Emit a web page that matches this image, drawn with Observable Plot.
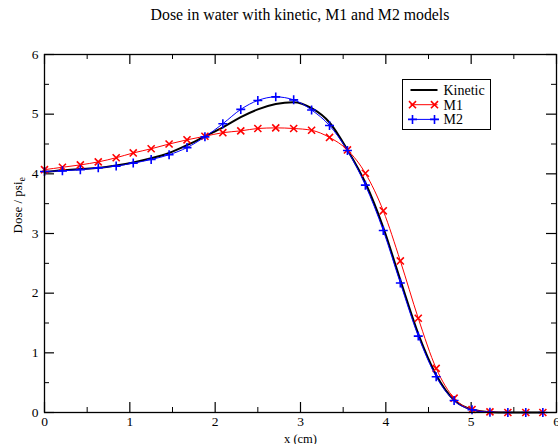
<!DOCTYPE html>
<html><head><meta charset="utf-8">
<script src="https://cdn.jsdelivr.net/npm/d3@7"></script>
<script src="https://cdn.jsdelivr.net/npm/@observablehq/plot@0.6"></script>
<style>
body{margin:0;background:#fff;font-family:"Liberation Serif","Times New Roman",Times,serif;}
#title{position:absolute;left:44px;width:512px;top:0;height:44px;text-align:center;font-size:15.8px;line-height:30px;color:#000;}
#chart{position:absolute;left:0;top:44px;}
</style></head>
<body>
<div id="title">Dose in water with kinetic, M1 and M2 models</div>
<div id="chart"></div>
<script>
// Data
const xPositions = [0, 0.21, 0.42, 0.63, 0.84, 1.04, 1.25, 1.46, 1.67, 1.88, 2.09, 2.30, 2.50, 2.71, 2.92, 3.13, 3.34, 3.55, 3.76, 3.97, 4.17, 4.38, 4.59, 4.80, 5.01, 5.22, 5.43, 5.64, 5.84];
const kinetic = [4.03, 4.06, 4.08, 4.10, 4.14, 4.19, 4.26, 4.35, 4.48, 4.63, 4.78, 4.95, 5.08, 5.17, 5.20, 5.10, 4.86, 4.40, 3.85, 3.10, 2.22, 1.32, 0.63, 0.21, 0.05, 0.005, 0, 0, 0];
const m1 = [4.07, 4.11, 4.15, 4.20, 4.27, 4.35, 4.42, 4.50, 4.57, 4.63, 4.69, 4.72, 4.76, 4.77, 4.76, 4.73, 4.61, 4.40, 4.01, 3.38, 2.54, 1.58, 0.74, 0.24, 0.05, 0.01, 0, 0, 0];
const m2 = [4.04, 4.05, 4.07, 4.10, 4.13, 4.18, 4.24, 4.32, 4.44, 4.62, 4.84, 5.08, 5.23, 5.29, 5.24, 5.07, 4.81, 4.39, 3.81, 3.05, 2.17, 1.28, 0.60, 0.20, 0.045, 0.005, 0, 0, 0];
const seriesNames = ["Kinetic", "M1", "M2"];
const seriesColors = ["#000000", "#ff0000", "#0000ff"];
const seriesSymbols = [null, "times", "plus"];
const xTicks = [0, 1, 2, 3, 4, 5, 6];
const yTicks = [0, 1, 2, 3, 4, 5, 6];
const minorTicks = [0.5, 1.5, 2.5, 3.5, 4.5, 5.5];
const titleText = "Dose in water with kinetic, M1 and M2 models";
const xLabel = "x (cm)";
const yLabel = "Dose / psi";
const yLabelSub = "e";

const FONT = "'Liberation Serif', 'Times New Roman', Times, serif";
const W = 558, H = 400, mL = 44, mR = 2, mT = 10, mB = 32;
const pw = W - mL - mR, ph = H - mT - mB;

const rows = xPositions.map((x, i) => ({x, k: kinetic[i], m1: m1[i], m2: m2[i]}));

const chart = Plot.plot({
  width: W, height: H,
  marginLeft: mL, marginRight: mR, marginTop: mT, marginBottom: mB,
  style: {fontFamily: FONT, fontSize: "13.5px", color: "#000", background: "#fff"},
  x: {domain: [0, 6]},
  y: {domain: [0, 6]},
  marks: [
    // inward ticks, four sides
    Plot.tickX(xTicks, {x: d => d, insetTop: ph - 10, stroke: "#000", strokeWidth: 1.2}),
    Plot.tickX(xTicks, {x: d => d, insetBottom: ph - 10, stroke: "#000", strokeWidth: 1.2}),
    Plot.tickX(minorTicks, {x: d => d, insetTop: ph - 5, stroke: "#000", strokeWidth: 1}),
    Plot.tickX(minorTicks, {x: d => d, insetBottom: ph - 5, stroke: "#000", strokeWidth: 1}),
    Plot.tickY(yTicks, {y: d => d, insetRight: pw - 10, stroke: "#000", strokeWidth: 1.2}),
    Plot.tickY(yTicks, {y: d => d, insetLeft: pw - 10, stroke: "#000", strokeWidth: 1.2}),
    Plot.tickY(minorTicks, {y: d => d, insetRight: pw - 5, stroke: "#000", strokeWidth: 1}),
    Plot.tickY(minorTicks, {y: d => d, insetLeft: pw - 5, stroke: "#000", strokeWidth: 1}),
    Plot.axisX({ticks: xTicks, tickSize: 0, tickPadding: 4, label: null, fontSize: 13.5, tickFormat: d => String(d)}),
    Plot.axisY({ticks: yTicks, tickSize: 0, tickPadding: 6, label: null, fontSize: 13.5, tickFormat: d => String(d)}),
    Plot.text([xLabel], {frameAnchor: "bottom", lineAnchor: "bottom", dy: 30, text: d => d, fontSize: 12.5, fill: "#000"}),
    Plot.text([yLabel], {frameAnchor: "left", dx: -27, rotate: -90, text: d => d, fontSize: 13, fill: "#000"}),
    // curves
    Plot.line(rows, {x: "x", y: "k", stroke: seriesColors[0], strokeWidth: 2, curve: "monotone-x"}),
    Plot.line(rows, {x: "x", y: "m1", stroke: seriesColors[1], strokeWidth: 1, curve: "monotone-x"}),
    Plot.dot(rows, {x: "x", y: "m1", symbol: seriesSymbols[1], r: 3.3, stroke: seriesColors[1], strokeWidth: 1.6}),
    Plot.line(rows, {x: "x", y: "m2", stroke: seriesColors[2], strokeWidth: 1, curve: "monotone-x"}),
    Plot.dot(rows, {x: "x", y: "m2", symbol: seriesSymbols[2], r: 3, stroke: seriesColors[2], strokeWidth: 1.6}),
    Plot.frame({stroke: "#000", strokeWidth: 1.3})
  ]
});

// subscript on the y label
d3.select(chart).selectAll("text").each(function() {
  if (this.textContent === yLabel) {
    d3.select(this).append("tspan").attr("font-size", 10).attr("dy", "0.35em").text(yLabelSub);
  }
});

// legend
const svg = d3.select(chart);
const lg = svg.append("g").attr("transform", "translate(402.5,35.5)");
lg.append("rect").attr("width", 88).attr("height", 50).attr("fill", "#fff").attr("stroke", "#000").attr("stroke-width", 1);
seriesNames.forEach((name, i) => {
  const y = 10.5 + i * 14.7;
  lg.append("line").attr("x1", 8).attr("x2", 35).attr("y1", y).attr("y2", y)
    .attr("stroke", seriesColors[i]).attr("stroke-width", i === 0 ? 2 : 1);
  if (seriesSymbols[i]) {
    const sym = seriesSymbols[i] === "times" ? d3.symbolTimes : d3.symbolPlus;
    const sz = seriesSymbols[i] === "times" ? Math.PI * 3.3 * 3.3 : Math.PI * 9;
    [10, 32].forEach(px => {
      lg.append("path").attr("d", d3.symbol(sym, sz)()).attr("transform", `translate(${px},${y})`)
        .attr("fill", "none").attr("stroke", seriesColors[i]).attr("stroke-width", 1.6);
    });
  }
  lg.append("text").attr("x", 41).attr("y", y).attr("dy", "0.35em").attr("font-size", 14)
    .attr("text-anchor", "start").style("font-family", FONT).attr("fill", "#000").text(name);
});

document.getElementById("chart").appendChild(chart);
document.getElementById("title").textContent = titleText;
</script>
</body></html>
